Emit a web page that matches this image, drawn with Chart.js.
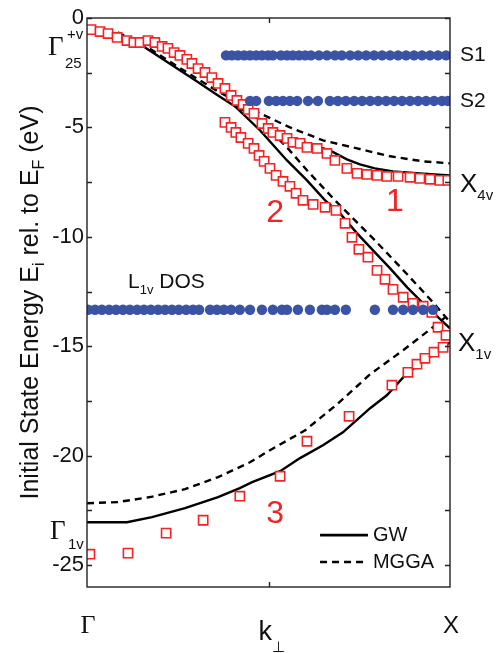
<!DOCTYPE html>
<html><head><meta charset="utf-8">
<script src="https://cdn.jsdelivr.net/npm/chart.js@4.4.1/dist/chart.umd.min.js"></script>
<style>html,body{margin:0;padding:0;background:#fff;}#wrap{position:relative;width:497px;height:653px;}</style>
</head><body><div id="wrap"><canvas id="c" width="497" height="653"></canvas></div>
<script>
// ---------- data (k from Γ=0 to X=1, energy in eV) ----------
const X_TICK_POS = [0, 0.5, 1];
const Y_MAJOR = [0, -5, -10, -15, -20, -25];
const Y_MINOR = [-2.5, -7.5, -12.5, -17.5, -22.5];

// experimental bands (red squares)
const band1K = [0.011,0.036,0.058,0.083,0.110,0.129,0.146,0.168,0.187,0.207,0.223,0.240,0.256,0.275,0.289,0.306,0.325,0.344,0.361,0.380,0.397,0.413,0.430,0.444,0.460,0.482,0.499,0.512,0.532,0.551,0.567,0.587,0.606,0.634,0.661,0.683,0.716,0.744,0.771,0.799,0.826,0.857,0.890,0.917,0.945,0.972,0.994];
const band1E = [-0.53,-0.62,-0.71,-0.89,-1.03,-1.12,-1.12,-1.03,-1.12,-1.30,-1.39,-1.58,-1.71,-1.89,-2.08,-2.31,-2.49,-2.72,-2.99,-3.22,-3.54,-3.77,-3.95,-4.18,-4.36,-4.82,-5.05,-5.23,-5.37,-5.50,-5.68,-5.73,-5.91,-5.96,-6.19,-6.51,-6.87,-7.10,-7.15,-7.19,-7.24,-7.24,-7.28,-7.33,-7.37,-7.42,-7.42];
const band2K = [0.380,0.397,0.410,0.424,0.444,0.460,0.474,0.488,0.504,0.521,0.540,0.559,0.576,0.595,0.623,0.656,0.686,0.711,0.730,0.749,0.774,0.799,0.821,0.843,0.871,0.898,0.926,0.950,0.967,0.989];
const band2E = [-4.77,-5.00,-5.23,-5.46,-5.73,-5.96,-6.28,-6.55,-6.87,-7.19,-7.47,-7.69,-8.01,-8.33,-8.52,-8.65,-8.79,-9.38,-10.02,-10.57,-10.93,-11.53,-11.94,-12.40,-12.76,-13.04,-13.17,-13.45,-14.13,-14.50];
const band3K = [0.008,0.113,0.218,0.320,0.421,0.532,0.606,0.722,0.840,0.884,0.909,0.931,0.956,0.981];
const band3E = [-24.50,-24.45,-23.54,-22.95,-21.85,-20.94,-19.34,-18.20,-16.78,-16.19,-15.82,-15.55,-15.27,-15.05];

// flat features (blue dots)
const s1Level = -1.71;
const s1K = [0.383,0.399,0.416,0.433,0.449,0.466,0.482,0.499,0.512,0.534,0.551,0.567,0.584,0.601,0.617,0.639,0.661,0.683,0.702,0.725,0.747,0.769,0.791,0.813,0.835,0.857,0.879,0.901,0.923,0.945,0.967,0.989];
const s2Level = -3.79;
const s2K = [0.449,0.466,0.501,0.521,0.540,0.559,0.579,0.609,0.636,0.669,0.691,0.713,0.736,0.758,0.780,0.802,0.824,0.846,0.868,0.890,0.912,0.934,0.956,0.978,0.994];
const l1Level = -13.33;
const l1K = [0.003,0.022,0.041,0.061,0.080,0.099,0.118,0.138,0.157,0.176,0.196,0.215,0.234,0.253,0.273,0.292,0.309,0.339,0.358,0.377,0.397,0.421,0.449,0.482,0.512,0.537,0.551,0.581,0.614,0.647,0.661,0.683,0.713,0.793,0.843,0.871,0.898,0.926,0.953];

// theory: GW (solid)
const gwUpperK = [0.085,0.160,0.223,0.298,0.361,0.408,0.449,0.504,0.559,0.614,0.669,0.716,0.752,0.793,0.843,0.917,1.000];
const gwUpperE = [-0.71,-1.35,-2.03,-2.85,-3.54,-4.04,-4.36,-4.95,-5.46,-5.78,-6.05,-6.46,-6.69,-6.87,-7.01,-7.10,-7.19];
const gwMidK = [0.408,0.477,0.551,0.606,0.656,0.697,0.744,0.788,0.835,0.882,0.926,0.953,1.000];
const gwMidE = [-4.04,-5.14,-6.51,-7.42,-8.33,-8.93,-9.84,-10.62,-11.44,-12.31,-13.04,-13.45,-14.18];
const gwLowK = [0,0.110,0.179,0.270,0.361,0.421,0.455,0.532,0.587,0.650,0.705,0.780,0.826,0.871,0.917,0.964,1.000];
const gwLowE = [-23.04,-23.04,-22.81,-22.40,-21.89,-21.48,-21.21,-20.71,-20.11,-19.52,-18.93,-17.83,-17.24,-16.42,-15.78,-15.27,-14.82];
// theory: MGGA (dashed)
const mgUpperK = [0.085,0.160,0.223,0.298,0.361,0.435,0.477,0.559,0.650,0.744,0.835,0.926,1.000];
const mgUpperE = [-0.66,-1.26,-1.94,-2.72,-3.36,-4.00,-4.36,-5.00,-5.59,-5.96,-6.32,-6.55,-6.64];
const mgMidK = [0.435,0.490,0.551,0.606,0.683,0.788,0.882,0.953,1.000];
const mgMidE = [-4.00,-4.91,-5.91,-6.96,-8.33,-10.07,-11.71,-12.99,-13.90];
const mgLowK = [0,0.085,0.174,0.270,0.361,0.449,0.504,0.601,0.689,0.780,0.871,0.917,0.964,1.000];
const mgLowE = [-22.17,-22.12,-21.89,-21.53,-20.98,-20.30,-19.75,-18.84,-17.65,-16.28,-15.18,-14.59,-13.99,-13.49];

// ---------- build ----------
const RED = '#f02424', BLUE = '#3a53a4';
const pts = (k, e) => k.map((v, i) => ({x: v, y: e[i]}));
const lvl = (k, e0) => k.map(v => ({x: v, y: e0}));
const lineDs = (label, data, dashed) => ({label, data, showLine: true, pointRadius: 0, borderColor: '#000', borderWidth: 2.4, borderDash: dashed ? [7,5] : [], fill: false, order: 3, tension: 0});
const sqDs = (label, data) => ({label, data, showLine: false, pointStyle: 'rect', pointRadius: 6.5, borderWidth: 1.6, borderColor: RED, backgroundColor: '#fff', order: 2, pointHoverRadius: 6.5});
const dotDs = (label, data) => ({label, data, showLine: false, pointStyle: 'circle', pointRadius: 5.2, borderWidth: 0, backgroundColor: BLUE, borderColor: BLUE, order: 1});

const datasets = [
  lineDs('GW', pts(gwUpperK, gwUpperE), false),
  lineDs('GW', pts(gwMidK, gwMidE), false),
  lineDs('GW', pts(gwLowK, gwLowE), false),
  lineDs('MGGA', pts(mgUpperK, mgUpperE), true),
  lineDs('MGGA', pts(mgMidK, mgMidE), true),
  lineDs('MGGA', pts(mgLowK, mgLowE), true),
  sqDs('band 1', pts(band1K, band1E)),
  sqDs('band 2', pts(band2K, band2E)),
  sqDs('band 3', pts(band3K, band3E)),
  dotDs('S1', lvl(s1K, s1Level)),
  dotDs('S2', lvl(s2K, s2Level)),
  dotDs('L1v DOS', lvl(l1K, l1Level)),
];

const SANS = '"Liberation Sans", Arial, sans-serif';
const SERIF = '"Liberation Serif", "Times New Roman", serif';

function seg(ctx, parts, x, y) {
  let cx = x;
  for (const [t, f, dy] of parts) {
    ctx.font = f; ctx.fillText(t, cx, y + dy); cx += ctx.measureText(t).width;
  }
  return cx;
}
function segWidth(ctx, parts) {
  let w = 0; for (const [t, f] of parts) { ctx.font = f; w += ctx.measureText(t).width; } return w;
}

const deco = {
  id: 'deco',
  afterDraw(chart) {
    const {ctx, chartArea: a} = chart;
    const xs = chart.scales.x, ys = chart.scales.y;
    ctx.save();
    ctx.strokeStyle = '#222'; ctx.lineWidth = 1.4; ctx.setLineDash([]);
    ctx.strokeRect(a.left, a.top, a.right - a.left, a.bottom - a.top);
    const TL = 5;
    ctx.beginPath();
    for (const v of Y_MAJOR.concat(Y_MINOR)) {
      const py = Math.round(ys.getPixelForValue(v)) + 0.5;
      ctx.moveTo(a.left, py); ctx.lineTo(a.left + TL, py);
      ctx.moveTo(a.right, py); ctx.lineTo(a.right - TL, py);
    }
    const px = Math.round(xs.getPixelForValue(X_TICK_POS[1])) + 0.5;
    ctx.moveTo(px, a.top); ctx.lineTo(px, a.top + TL);
    ctx.moveTo(px, a.bottom); ctx.lineTo(px, a.bottom - TL);
    ctx.stroke();

    // y tick labels
    ctx.fillStyle = '#111'; ctx.textAlign = 'right'; ctx.textBaseline = 'middle';
    ctx.font = '22px ' + SANS;
    for (const v of Y_MAJOR) ctx.fillText(v === 0 ? '0' : '-' + Math.abs(v), a.left - 3, ys.getPixelForValue(v));

    // x labels
    ctx.textBaseline = 'alphabetic';
    ctx.textAlign = 'center';
    ctx.font = '26px ' + SERIF;
    ctx.fillText('Γ', xs.getPixelForValue(X_TICK_POS[0]) + 1, 633);
    ctx.font = '24px ' + SANS;
    ctx.fillText('X', xs.getPixelForValue(X_TICK_POS[2]) + 1, 633);
    ctx.textAlign = 'left';
    const kx = xs.getPixelForValue(X_TICK_POS[1]) - 10;
    seg(ctx, [['k', '27px ' + SANS, 0], ['⊥', '15px ' + SANS, 12]], kx, 640);

    // y axis title
    ctx.save();
    ctx.translate(38, (a.top + a.bottom) / 2);
    ctx.rotate(-Math.PI / 2);
    const F = '25px ' + SANS, FS = '16px ' + SANS;
    const tparts = [['Initial State Energy E', F, 0], ['i', FS, 6], [' rel. to E', F, 0], ['F', FS, 6], [' (eV)', F, 0]];
    const tw = segWidth(ctx, tparts);
    ctx.textAlign = 'left'; ctx.fillStyle = '#111';
    seg(ctx, tparts, -tw / 2, 0);
    ctx.restore();

    // Γ labels on left
    ctx.fillStyle = '#111'; ctx.textAlign = 'left'; ctx.textBaseline = 'alphabetic';
    ctx.font = '27px ' + SERIF; ctx.fillText('Γ', 48, 55);
    ctx.font = '15px ' + SANS; ctx.fillText('+v', 67, 39); ctx.fillText('25', 65, 68);
    ctx.font = '27px ' + SERIF; ctx.fillText('Γ', 50, 539);
    ctx.font = '15px ' + SANS; ctx.fillText('1v', 68, 549);

    // right labels
    const rx = a.right + 10;
    ctx.textBaseline = 'middle';
    ctx.font = '21px ' + SANS;
    ctx.fillText('S1', rx, ys.getPixelForValue(s1Level));
    ctx.fillText('S2', rx, ys.getPixelForValue(s2Level));
    ctx.textBaseline = 'alphabetic';
    seg(ctx, [['X', '26px ' + SANS, 0], ['4v', '15px ' + SANS, 8]], rx, ys.getPixelForValue(-7.55) + 9);
    seg(ctx, [['X', '26px ' + SANS, 0], ['1v', '15px ' + SANS, 8]], rx - 2, ys.getPixelForValue(-14.8) + 9);

    // L1v DOS
    seg(ctx, [['L', '21px ' + SANS, 0], ['1v', '13px ' + SANS, 6], [' DOS', '21px ' + SANS, 0]], xs.getPixelForValue(0.113), ys.getPixelForValue(-11.96) + 8);

    // band numbers
    ctx.fillStyle = RED; ctx.textAlign = 'center'; ctx.textBaseline = 'middle';
    ctx.font = '32px ' + SANS;
    ctx.fillText('1', xs.getPixelForValue(0.848), ys.getPixelForValue(-8.42));
    ctx.fillText('2', xs.getPixelForValue(0.518), ys.getPixelForValue(-8.93));
    ctx.fillText('3', xs.getPixelForValue(0.518), ys.getPixelForValue(-22.67));

    // legend
    ctx.fillStyle = '#111'; ctx.textAlign = 'left';
    ctx.strokeStyle = '#000'; ctx.lineWidth = 2.6;
    const lx0 = xs.getPixelForValue(0.642), lx1 = xs.getPixelForValue(0.774);
    const ly1 = ys.getPixelForValue(-23.63), ly2 = ys.getPixelForValue(-24.86);
    ctx.beginPath(); ctx.moveTo(lx0, ly1); ctx.lineTo(lx1, ly1); ctx.stroke();
    ctx.setLineDash([7, 5]);
    ctx.beginPath(); ctx.moveTo(lx0, ly2); ctx.lineTo(lx1 - 4, ly2); ctx.stroke();
    ctx.setLineDash([]);
    ctx.font = '20px ' + SANS;
    ctx.fillText(datasets[0].label, lx1 + 5, ly1);
    ctx.fillText(datasets[3].label, lx1 + 5, ly2);
    ctx.restore();
  }
};

new Chart(document.getElementById('c'), {
  type: 'scatter',
  data: {datasets},
  options: {
    responsive: false, animation: false, devicePixelRatio: 1,
    layout: {padding: {left: 87, right: 47, top: 18, bottom: 66}},
    plugins: {legend: {display: false}, tooltip: {enabled: false}},
    scales: {
      x: {type: 'linear', min: 0, max: 1, display: false},
      y: {type: 'linear', min: -26, max: 0, display: false}
    }
  },
  plugins: [deco]
});
</script></body></html>
